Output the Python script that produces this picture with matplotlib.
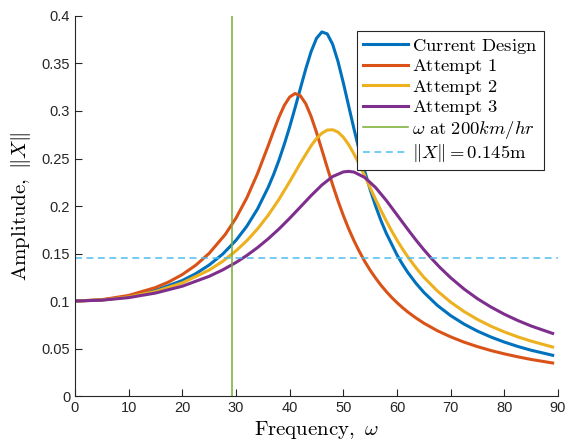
import numpy as np
import matplotlib
matplotlib.use('Agg')
import matplotlib.pyplot as plt

plt.rcParams['mathtext.fontset'] = 'cm'
plt.rcParams['font.family'] = 'Liberation Sans'

# frequency (omega) and amplitude ||X||
w_current = [0, 5, 10, 15, 20, 22.5, 25, 27.5, 30, 32, 34, 36, 37, 38, 39, 40, 41, 42,
             43, 44, 45, 46, 47, 48, 49, 50, 51, 52, 53, 54, 55, 56, 57, 58, 60, 61, 62,
             63.5, 65, 67.5, 70, 72.5, 75, 77.5, 80, 82.5, 85, 89]
amp_current = [0.1, 0.1011, 0.1047, 0.1112, 0.1216, 0.1288, 0.1379, 0.1493, 0.1639,
               0.1786, 0.1968, 0.2197, 0.2331, 0.2482, 0.2650, 0.2833, 0.3032, 0.3239,
               0.3443, 0.3626, 0.3765, 0.3832, 0.3812, 0.3703, 0.3522, 0.3296, 0.3051,
               0.2807, 0.2576, 0.2364, 0.2172, 0.2001, 0.1848, 0.1713, 0.1485, 0.1389,
               0.1302, 0.1189, 0.1091, 0.0955, 0.0846, 0.0757, 0.0683, 0.0621, 0.0568,
               0.0522, 0.0482, 0.0429]

w_att1 = [0, 5, 10, 15, 17.5, 20, 22.5, 25, 28, 30, 32, 34, 36, 37, 38, 39, 40, 41, 42,
          43, 44, 45, 46, 47, 48, 49, 50, 51, 52, 53, 54, 55, 56, 57, 58, 59, 60, 61,
          62, 63.5, 65, 67.5, 70, 72.5, 75, 77.5, 80, 82.5, 85, 89]
amp_att1 = [0.1, 0.1014, 0.1059, 0.1142, 0.1202, 0.1279, 0.1377, 0.1502, 0.1701,
            0.1873, 0.2084, 0.2340, 0.2635, 0.2788, 0.2934, 0.3059, 0.3147, 0.3184,
            0.3160, 0.3076, 0.2942, 0.2775, 0.2591, 0.2405, 0.2224, 0.2055, 0.1900,
            0.1759, 0.1633, 0.1519, 0.1416, 0.1324, 0.1242, 0.1167, 0.1100, 0.1038,
            0.0983, 0.0932, 0.0885, 0.0823, 0.0767, 0.0688, 0.0623, 0.0567, 0.0520,
            0.0479, 0.0444, 0.0413, 0.0385, 0.0348]

w_att2 = [0, 5, 10, 15, 20, 25, 27.5, 30, 32, 34, 36, 38, 40, 42, 44, 45, 46, 47, 48,
          49, 50, 51, 52, 53, 54, 55, 56, 57, 58, 59, 60, 61, 62, 63.5, 65, 67.5, 70,
          72.5, 75, 77.5, 80, 82.5, 85, 89]
amp_att2 = [0.1, 0.1010, 0.1043, 0.1100, 0.1191, 0.1326, 0.1417, 0.1528, 0.1634,
            0.1758, 0.1903, 0.2070, 0.2256, 0.2452, 0.2635, 0.2710, 0.2766, 0.2799,
            0.2803, 0.2778, 0.2724, 0.2645, 0.2546, 0.2434, 0.2314, 0.2192, 0.2071,
            0.1954, 0.1843, 0.1738, 0.1640, 0.1550, 0.1466, 0.1352, 0.1250, 0.1107,
            0.0988, 0.0889, 0.0806, 0.0735, 0.0675, 0.0623, 0.0578, 0.0516]

w_att3 = [0, 5, 10, 15, 20, 25, 27.5, 30, 32, 34, 36, 38, 40, 42, 44, 46, 48, 50, 51,
          52, 54, 56, 58, 60, 62, 63.5, 65, 66.5, 68, 70, 72.5, 75, 77.5, 80, 82.5,
          85, 89]
amp_att3 = [0.1, 0.1009, 0.1036, 0.1084, 0.1156, 0.1260, 0.1327, 0.1406, 0.1479,
            0.1562, 0.1655, 0.1758, 0.1871, 0.1990, 0.2110, 0.2221, 0.2310, 0.2359,
            0.2365, 0.2357, 0.2300, 0.2195, 0.2059, 0.1907, 0.1755, 0.1644, 0.1540,
            0.1443, 0.1353, 0.1245, 0.1126, 0.1024, 0.0937, 0.0861, 0.0795, 0.0737,
            0.0659]

w_200kmh = 29.2
amp_limit = 0.145

fig = plt.figure(figsize=(5.66, 4.44), dpi=100)
ax = fig.add_axes([0.1325, 0.108, 0.8534, 0.856])

ax.plot(w_current, amp_current, color='#0072BD', lw=2.2, label=r'$\mathrm{Current\ Design}$')
ax.plot(w_att1, amp_att1, color='#D95319', lw=2.2, label=r'$\mathrm{Attempt\ 1}$')
ax.plot(w_att2, amp_att2, color='#EDB120', lw=2.2, label=r'$\mathrm{Attempt\ 2}$')
ax.plot(w_att3, amp_att3, color='#7E2F8E', lw=2.2, label=r'$\mathrm{Attempt\ 3}$')
ax.axvline(w_200kmh, color='#77AC30', lw=1.1, label=r'$\omega\ \mathrm{at}\ 200km/hr$')
ax.axhline(amp_limit, color='#4DBEEE', lw=1.1, ls=(0, (4.5, 3)),
           label=r'$\|X\| = 0.145\mathrm{m}$')

ax.set_xlim(0, 90)
ax.set_ylim(0, 0.4)
ax.set_xticks(np.arange(0, 91, 10))
ax.set_yticks(np.arange(0, 0.41, 0.05))
ax.set_yticklabels(['0', '0.05', '0.1', '0.15', '0.2', '0.25', '0.3', '0.35', '0.4'])

for s in ['top', 'right']:
    ax.spines[s].set_visible(False)
for s in ['left', 'bottom']:
    ax.spines[s].set_color('#262626')
    ax.spines[s].set_linewidth(0.8)
ax.tick_params(direction='in', length=5, width=0.8, colors='#262626',
               labelsize=10.5, labelcolor='#262626')

ax.set_xlabel(r'$\mathrm{Frequency,}\ \omega$', fontsize=15, labelpad=3)
ax.set_ylabel(r'$\mathrm{Amplitude,}\ \|X\|$', fontsize=15, labelpad=6)

leg = ax.legend(loc='upper right', bbox_to_anchor=(0.97, 0.96), fontsize=13.4,
                fancybox=False, framealpha=1, edgecolor='#262626',
                handlelength=2.4, labelspacing=0.08, borderpad=0.3,
                handletextpad=0.25, borderaxespad=0)
leg.get_frame().set_linewidth(0.8)

fig.savefig('out.png', dpi=100)
